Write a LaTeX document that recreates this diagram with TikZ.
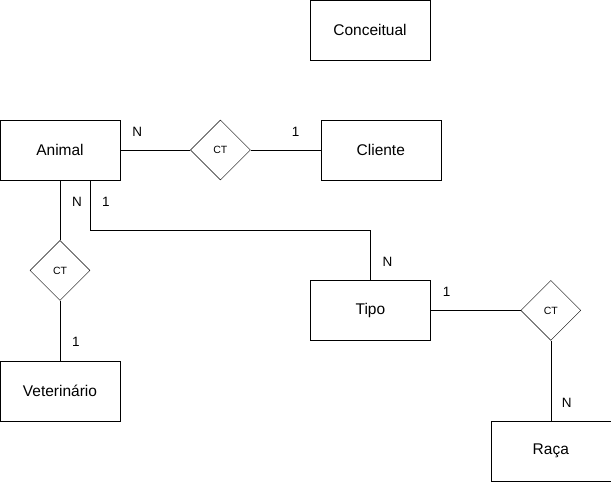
\documentclass[tikz,border=0pt]{standalone}
\usepackage{fontspec}
\setmainfont{Liberation Sans}
\usepackage{tikz}
\usetikzlibrary{positioning, shapes, shapes.geometric}

\begin{document}
\begin{tikzpicture}[
    x=1pt, y=1pt,
    entity/.style={rectangle, draw, minimum width=120pt, minimum height=60pt, inner sep=0pt, align=center, font=\fontsize{15.5}{18}\selectfont},
    relation/.style={diamond, draw, minimum width=60pt, minimum height=60pt, inner sep=0pt, font=\fontsize{10.5}{12}\selectfont},
    card/.style={inner sep=0pt, font=\fontsize{13.5}{16}\selectfont}
]
\useasboundingbox (0,0) rectangle (611,-482);

% Title box
\node[entity] (conceitual) at (370,-30) {Conceitual};

% Entities and relations
\node[entity] (animal) at (60,-150) {Animal};
\node[relation, right=70pt of animal] (ct1) {CT};
\node[entity, right=70pt of ct1] (cliente) {Cliente};
\node[relation, below=60pt of animal] (ct2) {CT};
\node[entity, below=60pt of ct2] (vet) {Veterinário};
\node[entity, below right=100pt and 190pt of animal] (tipo) {Tipo};
\node[relation, right=90pt of tipo] (ct3) {CT};
\node[entity, below=80pt of ct3] (raca) {Raça};

% Connectors
\draw (animal) -- (ct1);
\draw (ct1) -- (cliente);
\draw (animal) -- (ct2);
\draw (ct2) -- (vet);
\draw ([xshift=30pt]animal.south) -- ++(0,-50pt) -| (tipo.north);
\draw (tipo) -- (ct3);
\draw (ct3) -- (raca);

% Cardinalities
\node[card] (cardA) at ([xshift=17pt,yshift=-12pt]animal.north east) {N};
\node[card] (cardB) at ([xshift=-25pt,yshift=-12pt]cliente.north west) {1};
\node[card] (cardC) at ([xshift=17pt,yshift=-22pt]animal.south) {N};
\node[card] (cardD) at ([xshift=46pt,yshift=-22pt]animal.south) {1};
\node[card] (cardE) at ([xshift=17pt,yshift=18pt]tipo.north) {N};
\node[card] (cardF) at ([xshift=16pt,yshift=-12pt]tipo.north east) {1};
\node[card] (cardG) at ([xshift=16pt,yshift=18pt]raca.north) {N};
\node[card] (cardH) at ([xshift=16pt,yshift=19pt]vet.north) {1};

\end{tikzpicture}
\end{document}
